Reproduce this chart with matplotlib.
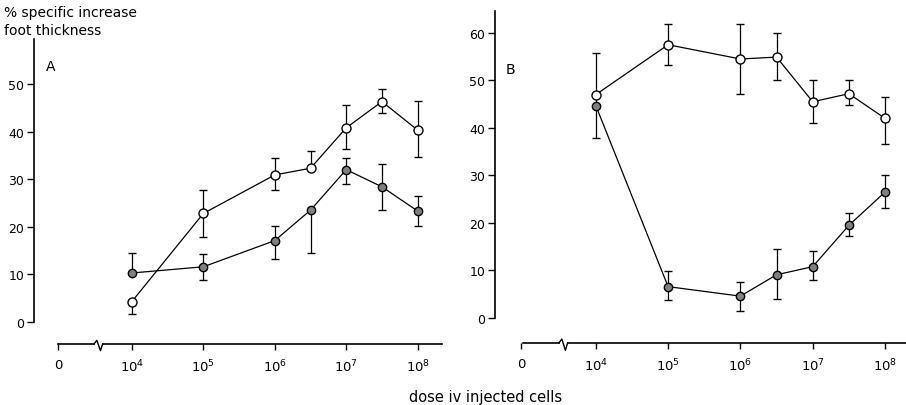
import numpy as np
import matplotlib
matplotlib.use("Agg")
import matplotlib.pyplot as plt
import matplotlib.transforms as mtransforms

# ---- data (log10 of dose) ----
dose_log = [4.0, 5.0, 6.0, 6.5, 7.0, 7.5, 8.0]

# Panel A
a_open = [4.3, 22.8, 30.9, 32.3, 40.8, 46.3, 40.3]
a_open_lo = [2.6, 4.9, 3.1, 0.0, 4.5, 2.3, 5.7]
a_open_hi = [0.0, 4.9, 3.5, 3.6, 4.8, 2.7, 6.2]
a_fill = [10.3, 11.6, 17.1, 23.5, 32.0, 28.4, 23.3]
a_fill_lo = [0.0, 2.7, 3.9, 8.9, 3.0, 4.9, 3.1]
a_fill_hi = [4.2, 2.7, 3.1, 0.0, 2.4, 4.8, 3.2]

# Panel B
b_open = [47.0, 57.5, 54.5, 54.9, 45.5, 47.2, 42.0]
b_open_lo = [9.2, 4.2, 7.3, 4.9, 4.4, 2.4, 5.3]
b_open_hi = [8.8, 4.4, 7.4, 5.0, 4.6, 2.9, 4.5]
b_fill = [44.7, 6.6, 4.6, 9.1, 10.8, 19.5, 26.5]
b_fill_lo = [0.0, 2.8, 3.1, 5.0, 2.7, 2.2, 3.3]
b_fill_hi = [0.0, 3.2, 3.0, 5.4, 3.2, 2.6, 3.5]

a_yticks = [0, 10, 20, 30, 40, 50]
b_yticks = [0, 10, 20, 30, 40, 50, 60]
x_tick_pos = [2.97, 4, 5, 6, 7, 8]
x_tick_labels = ["0", "$10^4$", "$10^5$", "$10^6$", "$10^7$", "$10^8$"]

W, H = 906, 406
fig = plt.figure(figsize=(W / 100, H / 100), dpi=100)
plt.rcParams['font.family'] = ['DejaVu Sans']
FS = 9

def px_axes(l, r, t, b):
    return fig.add_axes([l / W, (H - b) / H, (r - l) / W, (b - t) / H])

axA = px_axes(34, 442, 40, 345)
axB = px_axes(495, 906, 12, 344)

def style(ax, xlim, ylim, yticks, brk, xzero):
    ax.set_xlim(*xlim)
    ax.set_ylim(*ylim)
    ax.set_facecolor('none')
    for s in ['top', 'right', 'bottom']:
        ax.spines[s].set_visible(False)
    ax.spines['left'].set_bounds(0, ylim[1])
    ax.spines['left'].set_linewidth(1.2)
    ax.set_yticks(yticks)
    ax.set_yticklabels([str(v) for v in yticks], fontsize=FS)
    ax.tick_params(axis='y', length=5, width=1, pad=2, direction='out')
    ax.set_xticks(x_tick_pos)
    ax.set_xticklabels(x_tick_labels, fontsize=FS + 0.5)
    ax.tick_params(axis='x', length=4, width=1, pad=6, direction='out')
    # custom bottom axis line with break
    tr = mtransforms.blended_transform_factory(ax.transData, ax.transAxes)
    ax.plot([xzero, brk - 0.06], [0, 0], color='black', lw=1.2, transform=tr, clip_on=False)
    ax.plot([brk - 0.06, brk - 0.02, brk + 0.03, brk + 0.06],
            [0, 0.012, -0.022, 0], color='black', lw=1.0, transform=tr, clip_on=False)
    ax.plot([brk + 0.06, xlim[1]], [0, 0], color='black', lw=1.2, transform=tr, clip_on=False)
    ax.xaxis.set_ticks_position('bottom')

def series(ax, y, lo, hi, filled):
    if filled:
        fc, ms = '0.5', 6.0
    else:
        fc, ms = 'white', 6.5
    ax.errorbar(dose_log, y, yerr=[lo, hi], fmt='-', color='black', lw=0.9,
                elinewidth=0.9, capsize=3, capthick=1.0,
                marker='o', markersize=ms, markerfacecolor=fc,
                markeredgecolor='black', markeredgewidth=1.0, clip_on=False, zorder=3)

style(axA, (2.63, 8.34), (-4.62, 59.45), a_yticks, 3.53, 2.97)
style(axB, (2.606, 8.29), (-5.26, 64.6), b_yticks, 3.55, 2.99)

series(axA, a_fill, a_fill_lo, a_fill_hi, True)
series(axA, a_open, a_open_lo, a_open_hi, False)
series(axB, b_fill, b_fill_lo, b_fill_hi, True)
series(axB, b_open, b_open_lo, b_open_hi, False)

axA.text(0.03, 0.91, "A", transform=axA.transAxes, fontsize=FS + 1, ha='left', va='center')
axB.text(0.025, 0.825, "B", transform=axB.transAxes, fontsize=FS + 1, ha='left', va='center')

fig.text(4 / W, 1 - 13 / H, "% specific increase", fontsize=10, ha='left', va='center')
fig.text(4 / W, 1 - 31 / H, "foot thickness", fontsize=10, ha='left', va='center')
fig.text(486 / W, 1 - 398 / H, "dose iv injected cells", fontsize=10.5, ha='center', va='center')

fig.savefig("out.png", dpi=100)
